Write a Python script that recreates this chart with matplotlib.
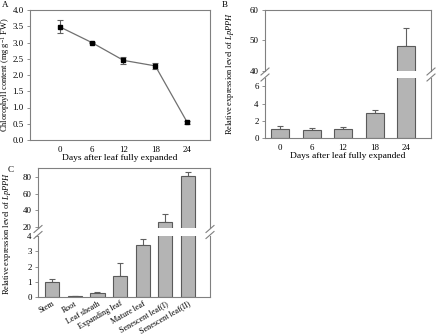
import matplotlib
matplotlib.use("Agg")
import matplotlib.pyplot as plt
import numpy as np
from matplotlib.lines import Line2D

plt.rcParams['font.family'] = ['Liberation Serif', 'DejaVu Serif']
plt.rcParams['mathtext.fontset'] = 'custom'
plt.rcParams['mathtext.rm'] = 'Liberation Serif'
plt.rcParams['mathtext.it'] = 'Liberation Serif:italic'

# Panel A data
days = ['0', '6', '12', '18', '24']
chl = [3.48, 3.0, 2.45, 2.28, 0.55]
chl_err = [0.2, 0.02, 0.1, 0.1, 0.05]

# Panel B data
expr_b = [1.05, 0.9, 1.1, 2.95, 48.0]
expr_b_err = [0.3, 0.25, 0.2, 0.25, 6.0]

# Panel C data
tissues = ['Stem', 'Root', 'Leaf sheath', 'Expanding leaf', 'Mature leaf',
           'Senescent leaf(I)', 'Senescent leaf(II)']
expr_c = [1.0, 0.05, 0.25, 1.4, 3.4, 26.0, 81.0]
expr_c_err = [0.15, 0.02, 0.05, 0.85, 0.4, 9.0, 5.0]

W, H = 440, 334
fig = plt.figure(figsize=(W/100, H/100), dpi=100)

def fx(px):
    return px / W
def fy(py):
    return 1 - py / H

spine_col = '#808080'
bar_face = '#b4b4b4'
bar_edge = '#5a5a5a'
fs_tick = 6.4
fs_lab = 6.8
fs_ylab = 6.0

def style(ax, left=True, right=True, top=True, bottom=True):
    for s, v in zip(['left', 'right', 'top', 'bottom'], [left, right, top, bottom]):
        ax.spines[s].set_visible(v)
        ax.spines[s].set_color(spine_col)
        ax.spines[s].set_linewidth(0.8)
    ax.tick_params(axis='y', direction='out', length=2.5, width=0.6, color=spine_col,
                   labelsize=fs_tick, pad=2)
    ax.tick_params(axis='x', length=0, labelsize=fs_tick, pad=4)
    ax.tick_params(axis='y', which='both', right=False)

# ---------- Panel A ----------
axA = fig.add_axes([fx(30), fy(140), fx(210) - fx(30), fy(10) - fy(140)])
xA = np.arange(len(days))
axA.errorbar(xA, chl, yerr=chl_err, color='#707070', lw=0.9, marker='s', ms=3.0,
             mfc='black', mec='black', ecolor='#606060', elinewidth=0.8, capsize=2.5,
             capthick=0.8)
axA.set_xlim(-0.94, 4.72)
axA.set_ylim(0, 4.0)
axA.set_yticks(np.arange(0, 4.01, 0.5))
axA.set_yticklabels([f'{v:.1f}' for v in np.arange(0, 4.01, 0.5)])
axA.set_xticks(xA)
axA.set_xticklabels(days)
style(axA)
axA.set_xlabel('Days after leaf fully expanded', fontsize=fs_lab, labelpad=0)
fig.text(fx(6), (fy(10) + fy(140)) / 2, 'Chlorophyll content (mg g$^{-1}$ FW)',
         rotation=90, fontsize=fs_ylab, ha='center', va='center')
fig.text(fx(2), fy(5), 'A', fontsize=6.5, ha='left', va='center')

# ---------- Panel B ----------
xB = np.arange(len(days))
wB = 0.57
axBu = fig.add_axes([fx(265), fy(70.7), fx(431) - fx(265), fy(10) - fy(70.7)])
axBl = fig.add_axes([fx(265), fy(138), fx(431) - fx(265), fy(77.7) - fy(138)])
for ax, lo, hi in [(axBu, 40, 60), (axBl, 0, 7)]:
    ax.bar(xB, expr_b, width=wB, color=bar_face, edgecolor=bar_edge, lw=0.8, zorder=2)
    ax.errorbar(xB, expr_b, yerr=[np.zeros(len(expr_b)), expr_b_err], fmt='none',
                ecolor='#606060', elinewidth=0.8, capsize=2.5, capthick=0.8, zorder=1)
    ax.set_ylim(lo, hi)
    ax.set_xlim(-0.48, 4.79)
style(axBu, bottom=False)
style(axBl, top=False)
axBu.set_xticks([])
axBu.set_yticks([40, 50, 60])
axBl.set_yticks([0, 2, 4, 6])
axBl.set_xticks(xB)
axBl.set_xticklabels(days)
axBl.set_xlabel('Days after leaf fully expanded', fontsize=fs_lab, labelpad=0)
fig.text(fx(230), (fy(10) + fy(138)) / 2,
         'Relative expression level of $\\mathit{LpPPH}$', rotation=90,
         fontsize=fs_ylab, ha='center', va='center')
fig.text(fx(222), fy(5), 'B', fontsize=6.5, ha='left', va='center')

def break_marks(xpx, y1, y2):
    for yy in (y1, y2):
        fig.add_artist(Line2D([fx(xpx - 4), fx(xpx + 4)], [fy(yy + 3.5), fy(yy - 3.5)],
                              color=spine_col, lw=0.8))
break_marks(265, 71.5, 77.5)
break_marks(431, 71.5, 77.5)

# ---------- Panel C ----------
xC = np.arange(len(tissues))
wC = 0.63
axCu = fig.add_axes([fx(38), fy(228), fx(210) - fx(38), fy(168) - fy(228)])
axCl = fig.add_axes([fx(38), fy(297), fx(210) - fx(38), fy(236) - fy(297)])
for ax, lo, hi in [(axCu, 18.5, 91), (axCl, 0, 4)]:
    ax.bar(xC, expr_c, width=wC, color=bar_face, edgecolor=bar_edge, lw=0.8, zorder=2)
    ax.errorbar(xC, expr_c, yerr=[np.zeros(len(expr_c)), expr_c_err], fmt='none',
                ecolor='#606060', elinewidth=0.8, capsize=2.2, capthick=0.8, zorder=1)
    ax.set_ylim(lo, hi)
    ax.set_xlim(-0.62, 6.97)
style(axCu, bottom=False)
style(axCl, top=False)
axCu.set_xticks([])
axCu.set_yticks([20, 40, 60, 80])
axCl.set_yticks([0, 1, 2, 3, 4])
axCl.set_xticks(xC)
axCl.set_xticklabels(tissues, rotation=30, ha='right', rotation_mode='anchor')
axCl.tick_params(axis='x', pad=2, labelsize=5.9)
fig.text(fx(7), fy(234),
         'Relative expression level of $\\mathit{LpPPH}$', rotation=90,
         fontsize=fs_ylab, ha='center', va='center')
fig.text(fx(8), fy(170), 'C', fontsize=6.5, ha='left', va='center')
break_marks(38, 229, 235)
break_marks(210, 229, 235)

fig.savefig('out.png', dpi=100)
